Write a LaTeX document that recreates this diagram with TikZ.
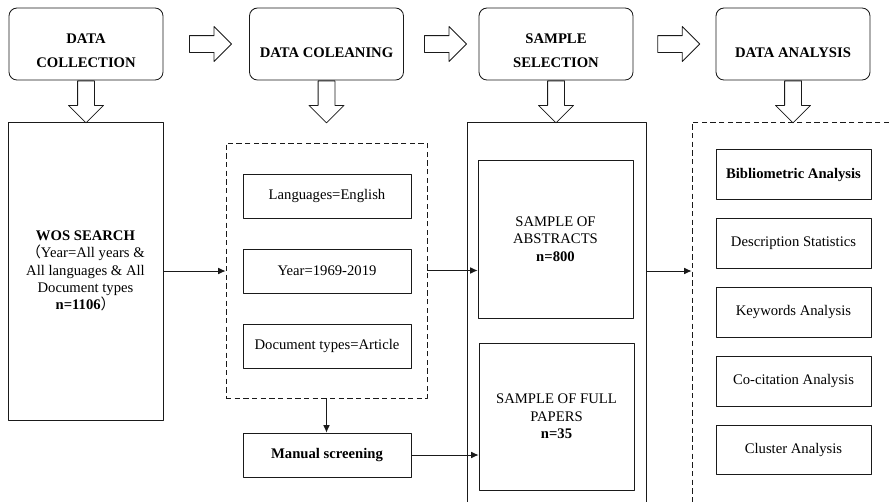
\documentclass[tikz,border=0pt]{standalone}
\usepackage{fontspec}
\setmainfont{Liberation Serif}
\newfontfamily\cjk{Noto Sans CJK SC}
\usetikzlibrary{calc,shapes.arrows,arrows.meta}
\newcommand{\Px}{0.75pt}
\newcommand{\Edge}{0.65pt}
\newcommand{\Lift}[1]{\rule{0pt}{#1}}
\definecolor{ink}{HTML}{1A1A1A}

\begin{document}
\begin{tikzpicture}[x=\Px,y=-\Px, line join=round,
  font=\fontsize{11}{13}\selectfont,
  stage/.style={draw=ink,line width=\Edge,rounded corners=6pt,
    minimum width=154*\Px,minimum height=72*\Px,align=center,
    font=\fontsize{11}{18}\selectfont\bfseries},
  frame/.style={draw=ink,line width=\Edge,inner sep=0pt},
  dashframe/.style={frame,dash pattern=on 4pt off 2.5pt},
  crit/.style={draw=ink,line width=\Edge,minimum width=168*\Px,
    minimum height=44*\Px,align=center},
  method/.style={draw=ink,line width=\Edge,minimum width=155*\Px,
    minimum height=49.5*\Px,align=center},
  flow/.style={single arrow,draw=ink,line width=\Edge,fill=white,
    inner xsep=0pt,inner ysep=8*\Px,minimum height=42*\Px,
    minimum width=34*\Px,single arrow head extend=9*\Px},
  link/.style={draw=ink,line width=\Edge,-{Latex[length=5.5pt,width=5pt]}}]

  % ---- page: the right column and the middle frame run off the edge ------
  \useasboundingbox (0,0) rectangle (889,501);
  \clip (0,0) rectangle (889,501);

  % ---- stages (titles sit a little low in their boxes) --------------------
  \node[stage] (cl) at (86,44)    {\Lift{17pt}DATA\\COLLECTION};
  \node[stage] (dc) at (326.5,44) {\Lift{21pt}DATA COLEANING};
  \node[stage] (ss) at (556,44)   {\Lift{17pt}SAMPLE\\SELECTION};
  \node[stage] (da) at (793,44)   {\Lift{21pt}DATA ANALYSIS};

  % hollow arrows from stage to stage, and down into each column
  \node[flow] (r1) at ($(cl.east)!0.5!(dc.west)$) {};
  \node[flow] (r2) at ($(dc.east)!0.5!(ss.west)$) {};
  \node[flow] (r3) at ($(ss.east)!0.5!(da.west)$) {};
  \foreach \s in {cl,dc,ss,da} {
    \node[flow,rotate=-90,anchor=tail] (d\s) at (\s.south) {};
  }

  % ---- column 1: search ---------------------------------------------------
  \node[frame,minimum width=155*\Px,minimum height=298*\Px,align=center]
    (wos) at (85.5,271)
    {\textbf{WOS SEARCH}\\{\cjk （}Year=All years \&\\All languages \& All\\
     Document types\\\textbf{n=1106}{\cjk ）}};

  % ---- column 2: cleaning -------------------------------------------------
  \node[dashframe,minimum width=201*\Px,minimum height=255*\Px]
    (clean) at (326.5,270.5) {};
  \node[crit] (lang) at (327,196) {Languages=English};
  \node[crit] (year) at (327,271) {Year=1969-2019};
  \node[crit] (doct) at (327,346) {Document types=Article};
  \node[crit,font=\fontsize{11}{13}\selectfont\bfseries]
    (manual) at (327,455) {Manual screening};

  % ---- column 3: samples --------------------------------------------------
  \node[frame,minimum width=179*\Px,minimum height=423*\Px]
    (sel) at (556.5,333.5) {};
  \node[frame,minimum width=155*\Px,minimum height=158*\Px,align=center]
    (abs) at (555.5,239) {SAMPLE OF\\ABSTRACTS\\\textbf{n=800}};
  \node[frame,minimum width=155*\Px,minimum height=147*\Px,align=center]
    (full) at (556.5,416.5) {SAMPLE OF FULL\\PAPERS\\\textbf{n=35}};

  % ---- column 4: analyses -------------------------------------------------
  \node[dashframe,minimum width=238*\Px,minimum height=423*\Px]
    (ana) at (811,333.5) {};
  \node[method,font=\fontsize{11}{13}\selectfont\bfseries]
    (bib) at (793.5,174.5) {Bibliometric Analysis};
  \foreach \n/\t [count=\i] in {desc/Description Statistics,
      kw/Keywords Analysis, cocit/Co-citation Analysis,
      clus/Cluster Analysis} {
    \node[method] (\n) at (793.5,{174.5+\i*68.9}) {\t};
  }

  % ---- connectors ---------------------------------------------------------
  \draw[link] (wos.east) -- (wos.east -| clean.west);
  \draw[link] (clean.east) -- (clean.east -| abs.west);
  \draw[link] (clean.south) -- (clean.south |- manual.north);
  \draw[link] (manual.east) -- (manual.east -| full.west);
  \draw[link] (wos.east -| sel.east) -- (wos.east -| ana.west);

\end{tikzpicture}
\end{document}
